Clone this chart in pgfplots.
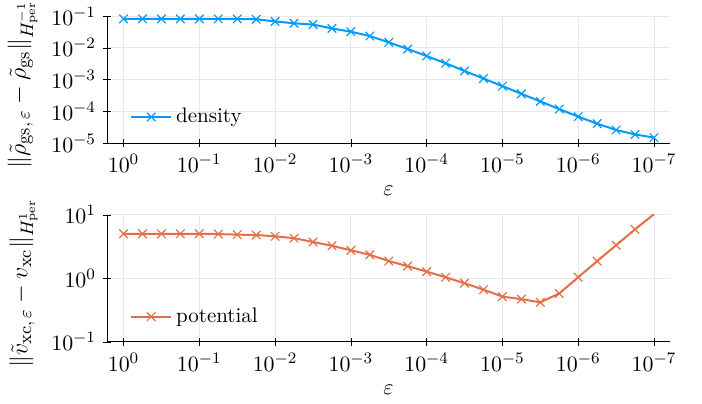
\documentclass[border=0pt]{standalone}
\usepackage{pgfplots}
\pgfplotsset{compat=1.18}

\definecolor{jblue}{RGB}{0,154,250}
\definecolor{jorange}{RGB}{227,111,71}

\pgfplotsset{
  legend image code/.code={
    \draw[#1, mark=none] (0cm,0cm) -- (0.7cm,0cm);
    \draw[#1, only marks] plot coordinates {(0.35cm,0cm)};},
}

\begin{document}
\begin{tikzpicture}
\path[use as bounding box] (0,0) rectangle (351pt,201.5pt);

\begin{axis}[
  at={(53.5pt,130pt)}, anchor=south west,
  scale only axis, width=281.5pt, height=63.5pt,
  xmode=log, ymode=log, x dir=reverse,
  xmin=6.15e-8, xmax=1.652,
  xtick={1,1e-1,1e-2,1e-3,1e-4,1e-5,1e-6,1e-7},
  ymin=1e-5, ymax=1e-1,
  ytick={1e-5,1e-4,1e-3,1e-2,1e-1},
  xminorticks=false, yminorticks=false,
  axis lines=left, axis line style={-},
  tick style={black}, major tick length=4pt,
  grid=major, major grid style={gray!18},
  tick label style={font=\fontsize{11}{13}\selectfont},
  xlabel style={font=\fontsize{11}{13}\selectfont},
  ylabel style={font=\fontsize{12.5}{15}\selectfont, at={(ticklabel cs:0.46)}},
  xlabel={$\varepsilon$},
  ylabel={$\|\tilde\rho_{\mathrm{gs},\,\varepsilon}-\tilde\rho_{\mathrm{gs}}\|_{H^{-1}_{\mathrm{per}}}$},
  legend cell align=left,
  legend style={at={(0.03,0.205)}, anchor=west, draw=none, fill=none,
    font=\fontsize{10.5}{12}\selectfont},
]
\addplot[color=jblue, line width=1pt, mark=x, mark size=3pt,
  mark options={line width=0.6pt}]
  table[x=eps, y=err] {
eps err
1         0.0813
5.623e-1  0.0813
3.162e-1  0.0813
1.778e-1  0.0813
1e-1      0.0813
5.623e-2  0.0813
3.162e-2  0.0810
1.778e-2  0.0790
1e-2      0.0676
5.623e-3  0.0589
3.162e-3  0.0537
1.778e-3  0.0407
1e-3      0.0320
5.623e-4  0.0234
3.162e-4  0.0148
1.778e-4  0.00912
1e-4      0.00550
5.623e-5  0.00324
3.162e-5  0.00186
1.778e-5  0.00107
1e-5      0.000617
5.623e-6  0.000355
3.162e-6  0.000204
1.778e-6  0.000117
1e-6      0.0000676
5.623e-7  0.0000407
3.162e-7  0.0000257
1.778e-7  0.0000186
1e-7      0.0000148
};
\addlegendentry{density}
\end{axis}

\begin{axis}[
  at={(53.5pt,30.65pt)}, anchor=south west,
  scale only axis, width=281.5pt, height=63.5pt,
  xmode=log, ymode=log, x dir=reverse,
  xmin=6.15e-8, xmax=1.652,
  xtick={1,1e-1,1e-2,1e-3,1e-4,1e-5,1e-6,1e-7},
  ymin=1e-1, ymax=1e1,
  ytick={1e-1,1,1e1},
  xminorticks=false, yminorticks=false,
  axis lines=left, axis line style={-},
  tick style={black}, major tick length=4pt,
  grid=major, major grid style={gray!18},
  tick label style={font=\fontsize{11}{13}\selectfont},
  xlabel style={font=\fontsize{11}{13}\selectfont},
  ylabel style={font=\fontsize{12.5}{15}\selectfont, at={(ticklabel cs:0.46)}},
  xlabel={$\varepsilon$},
  ylabel={$\|\tilde v_{\mathrm{xc},\,\varepsilon}-v_{\mathrm{xc}}\|_{H^{1}_{\mathrm{per}}}$},
  legend cell align=left,
  legend style={at={(0.03,0.197)}, anchor=west, draw=none, fill=none,
    font=\fontsize{10.5}{12}\selectfont},
]
\addplot[color=jorange, line width=1pt, mark=x, mark size=3pt,
  mark options={line width=0.6pt}, mark indices={1,...,28}]
  table[x=eps, y=err] {
eps err
1         5.01
5.623e-1  5.01
3.162e-1  5.01
1.778e-1  5.01
1e-1      5.01
5.623e-2  4.95
3.162e-2  4.85
1.778e-2  4.79
1e-2      4.57
5.623e-3  4.27
3.162e-3  3.72
1.778e-3  3.24
1e-3      2.75
5.623e-4  2.34
3.162e-4  1.86
1.778e-4  1.55
1e-4      1.27
5.623e-5  1.035
3.162e-5  0.832
1.778e-5  0.661
1e-5      0.513
5.623e-6  0.468
3.162e-6  0.417
1.778e-6  0.575
1e-6      1.035
5.623e-7  1.86
3.162e-7  3.31
1.778e-7  5.89
1e-7      10.2
};
\addlegendentry{potential}
\end{axis}
\end{tikzpicture}
\end{document}
